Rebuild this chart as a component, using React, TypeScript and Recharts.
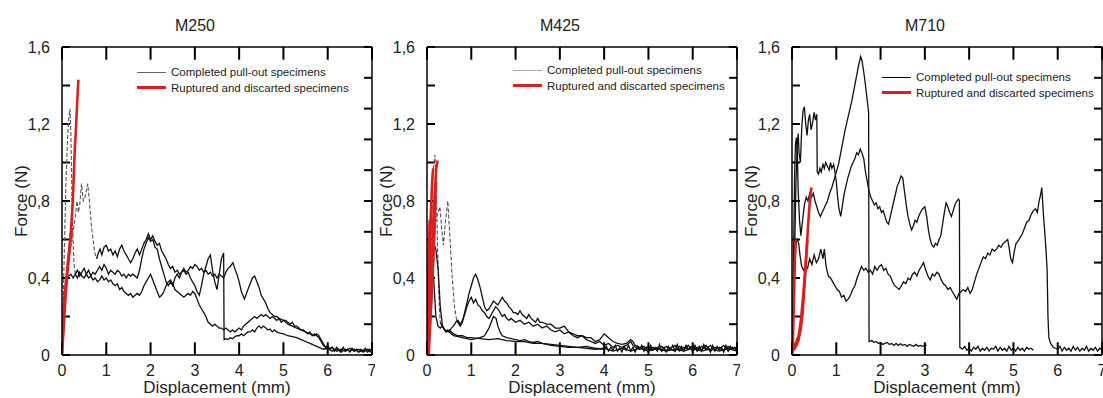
import React from "react";
import { LineChart, Line, XAxis, YAxis, ReferenceLine } from "recharts";

type Pt = [number, number];

const xTicks = [0, 1, 2, 3, 4, 5, 6, 7];
const yTicks = [0, 0.2, 0.4, 0.6, 0.8, 1, 1.2, 1.4, 1.6];
const rightTicks = [0, 0.16, 0.32, 0.48, 0.64, 0.8, 0.96, 1.12, 1.28, 1.44, 1.6];
const legendLabels = ["Completed pull-out specimens", "Ruptured and discarted specimens"];

// M250
const m250Spike: Pt[] = [
  [0, 0], [0.03, 0.3], [0.06, 0.62], [0.09, 0.9], [0.12, 1.1], [0.15, 1.22], [0.18, 1.28], [0.2, 1.15],
  [0.22, 0.9], [0.24, 0.65], [0.27, 0.48], [0.3, 0.42],
];
const m250A: Pt[] = [
  [0.3, 0.42], [0.35, 0.44], [0.4, 0.41], [0.45, 0.43], [0.5, 0.45],
  [0.55, 0.42], [0.6, 0.44], [0.65, 0.41], [0.7, 0.43], [0.75, 0.42], [0.8, 0.44], [0.85, 0.46], [0.9, 0.44],
  [0.95, 0.47], [1.0, 0.45], [1.05, 0.42], [1.1, 0.44], [1.15, 0.43], [1.2, 0.42], [1.25, 0.44], [1.3, 0.43],
  [1.35, 0.41], [1.4, 0.42], [1.45, 0.4], [1.5, 0.42], [1.55, 0.41], [1.6, 0.42], [1.7, 0.4], [1.75, 0.44],
  [1.8, 0.5], [1.85, 0.55], [1.9, 0.58], [1.95, 0.61], [2.0, 0.59], [2.05, 0.6], [2.1, 0.56], [2.15, 0.55],
  [2.2, 0.5], [2.25, 0.46], [2.3, 0.42], [2.35, 0.38], [2.4, 0.36], [2.45, 0.38], [2.5, 0.36], [2.55, 0.4],
  [2.6, 0.42], [2.65, 0.4], [2.7, 0.43], [2.75, 0.44], [2.8, 0.42], [2.85, 0.43], [2.9, 0.4], [2.95, 0.38],
  [3.0, 0.36], [3.05, 0.33], [3.1, 0.31], [3.15, 0.36], [3.2, 0.42], [3.25, 0.46], [3.3, 0.5], [3.35, 0.52],
  [3.4, 0.44], [3.45, 0.38], [3.5, 0.34], [3.55, 0.42], [3.6, 0.5], [3.65, 0.53], [3.66, 0.08], [3.7, 0.085],
  [3.75, 0.08], [3.8, 0.09], [3.85, 0.085], [3.9, 0.095], [3.95, 0.1], [4.0, 0.1], [4.05, 0.11], [4.1, 0.1],
  [4.15, 0.11], [4.2, 0.12], [4.25, 0.12], [4.3, 0.13], [4.35, 0.12], [4.4, 0.14], [4.45, 0.15], [4.5, 0.14],
  [4.55, 0.15], [4.6, 0.14], [4.65, 0.13], [4.7, 0.135], [4.75, 0.12], [4.8, 0.13], [4.85, 0.12], [4.9, 0.115],
  [5.0, 0.11], [5.1, 0.1], [5.2, 0.095], [5.3, 0.09], [5.4, 0.08], [5.5, 0.07], [5.6, 0.06], [5.7, 0.05],
  [5.8, 0.04], [5.9, 0.03], [6.0, 0.035], [6.1, 0.02], [6.2, 0.03], [6.3, 0.015], [6.4, 0.03], [6.5, 0.02],
  [6.6, 0.03], [6.7, 0.015], [6.8, 0.025], [6.9, 0.02], [7.0, 0.015],
];
const m250BRise: Pt[] = [
  [0, 0], [0.05, 0.22], [0.1, 0.4], [0.15, 0.48], [0.2, 0.56], [0.25, 0.64], [0.3, 0.72], [0.34, 0.8],
  [0.37, 0.74], [0.4, 0.78], [0.44, 0.89], [0.48, 0.8], [0.52, 0.82], [0.58, 0.89], [0.62, 0.8], [0.66, 0.68],
  [0.7, 0.6], [0.74, 0.53], [0.78, 0.5],
];
const m250B: Pt[] = [
  [0.78, 0.5], [0.82, 0.53], [0.86, 0.55], [0.9, 0.52], [0.95, 0.56], [1.0, 0.57],
  [1.05, 0.54], [1.1, 0.55], [1.15, 0.52], [1.2, 0.54], [1.25, 0.51], [1.3, 0.55], [1.35, 0.57], [1.4, 0.54],
  [1.45, 0.52], [1.5, 0.5], [1.55, 0.48], [1.6, 0.5], [1.65, 0.53], [1.7, 0.55], [1.75, 0.52], [1.8, 0.55],
  [1.85, 0.58], [1.9, 0.6], [1.95, 0.63], [2.0, 0.6], [2.05, 0.62], [2.1, 0.59], [2.15, 0.57], [2.2, 0.58],
  [2.25, 0.54], [2.3, 0.52], [2.35, 0.5], [2.4, 0.47], [2.45, 0.45], [2.5, 0.46], [2.55, 0.43], [2.6, 0.44],
  [2.65, 0.42], [2.7, 0.43], [2.75, 0.45], [2.8, 0.43], [2.85, 0.44], [2.9, 0.46], [2.95, 0.45], [3.0, 0.47],
  [3.05, 0.46], [3.1, 0.44], [3.15, 0.45], [3.2, 0.43], [3.25, 0.44], [3.3, 0.42], [3.35, 0.43], [3.4, 0.41],
  [3.45, 0.42], [3.5, 0.4], [3.55, 0.42], [3.6, 0.41], [3.65, 0.4], [3.7, 0.43], [3.75, 0.45], [3.8, 0.46],
  [3.86, 0.48], [3.9, 0.45], [3.95, 0.42], [4.0, 0.38], [4.05, 0.33], [4.12, 0.29], [4.18, 0.33], [4.25, 0.37],
  [4.3, 0.4], [4.35, 0.41], [4.4, 0.38], [4.45, 0.35], [4.5, 0.31], [4.55, 0.29], [4.6, 0.27], [4.65, 0.24],
  [4.7, 0.22], [4.75, 0.21], [4.8, 0.2], [4.85, 0.2], [4.9, 0.19], [5.0, 0.18], [5.05, 0.18], [5.1, 0.17],
  [5.15, 0.16], [5.2, 0.17], [5.25, 0.15], [5.3, 0.15], [5.35, 0.14], [5.4, 0.13], [5.45, 0.13], [5.5, 0.12],
  [5.55, 0.11], [5.6, 0.12], [5.65, 0.1], [5.7, 0.11], [5.75, 0.1], [5.8, 0.09], [5.85, 0.07], [5.9, 0.05],
  [5.95, 0.04], [6.0, 0.03], [6.1, 0.04], [6.2, 0.02], [6.3, 0.03], [6.4, 0.02], [6.5, 0.035], [6.6, 0.02],
  [6.7, 0.03], [6.8, 0.015], [6.9, 0.03], [7.0, 0.02],
];
const m250C: Pt[] = [
  [0, 0], [0.03, 0.2], [0.06, 0.32], [0.1, 0.38], [0.15, 0.41], [0.2, 0.42], [0.25, 0.4], [0.3, 0.42],
  [0.35, 0.4], [0.4, 0.43], [0.45, 0.41], [0.5, 0.4], [0.55, 0.42], [0.6, 0.4], [0.65, 0.41], [0.7, 0.39],
  [0.75, 0.4], [0.8, 0.38], [0.85, 0.39], [0.9, 0.41], [0.95, 0.39], [1.0, 0.4], [1.05, 0.38], [1.1, 0.39],
  [1.15, 0.37], [1.2, 0.36], [1.25, 0.37], [1.3, 0.34], [1.35, 0.35], [1.4, 0.33], [1.45, 0.32], [1.5, 0.31],
  [1.55, 0.32], [1.6, 0.3], [1.65, 0.31], [1.7, 0.32], [1.75, 0.31], [1.8, 0.33], [1.85, 0.36], [1.9, 0.38],
  [1.95, 0.4], [2.0, 0.42], [2.05, 0.39], [2.1, 0.36], [2.15, 0.33], [2.2, 0.3], [2.25, 0.31], [2.3, 0.33],
  [2.35, 0.36], [2.4, 0.38], [2.45, 0.39], [2.5, 0.37], [2.55, 0.34], [2.6, 0.33], [2.65, 0.32], [2.7, 0.31],
  [2.75, 0.3], [2.8, 0.31], [2.85, 0.32], [2.9, 0.31], [2.95, 0.33], [3.0, 0.32], [3.05, 0.29], [3.1, 0.26],
  [3.15, 0.24], [3.2, 0.22], [3.25, 0.2], [3.3, 0.17], [3.35, 0.16], [3.4, 0.15], [3.45, 0.16], [3.5, 0.15],
  [3.55, 0.14], [3.6, 0.14], [3.65, 0.13], [3.7, 0.14], [3.75, 0.13], [3.8, 0.12], [3.85, 0.13], [3.9, 0.12],
  [3.95, 0.13], [4.0, 0.14], [4.05, 0.13], [4.1, 0.15], [4.15, 0.16], [4.2, 0.17], [4.25, 0.18], [4.3, 0.19],
  [4.35, 0.2], [4.4, 0.19], [4.45, 0.2], [4.5, 0.21], [4.55, 0.2], [4.6, 0.21], [4.65, 0.2], [4.7, 0.19],
  [4.75, 0.2], [4.8, 0.19], [4.85, 0.18], [4.9, 0.19], [4.95, 0.17], [5.0, 0.18], [5.1, 0.16], [5.2, 0.15],
  [5.3, 0.14], [5.4, 0.13], [5.5, 0.12], [5.6, 0.11], [5.7, 0.1], [5.75, 0.11], [5.8, 0.1], [5.85, 0.08],
  [5.9, 0.06], [5.95, 0.04], [6.0, 0.05], [6.05, 0.03], [6.1, 0.04], [6.15, 0.02], [6.2, 0.04], [6.25, 0.03],
  [6.3, 0.02], [6.35, 0.04], [6.4, 0.02], [6.45, 0.03], [6.5, 0.015], [6.55, 0.035], [6.6, 0.02], [6.65, 0.03],
  [6.7, 0.015], [6.75, 0.03], [6.8, 0.02], [6.85, 0.035], [6.9, 0.015], [6.95, 0.03], [7.0, 0.02],
];
const m250Red1: Pt[] = [
  [0, 0], [0.04, 0.15], [0.08, 0.3], [0.12, 0.42], [0.16, 0.52], [0.2, 0.64], [0.24, 0.78], [0.27, 0.95],
  [0.29, 1.08], [0.31, 1.15], [0.34, 1.3], [0.37, 1.43],
];
const m250Red2: Pt[] = [[0, 0], [0.03, 0.18], [0.06, 0.32], [0.1, 0.4], [0.14, 0.5], [0.18, 0.58], [0.22, 0.66]];

// M425
const m425Spike: Pt[] = [
  [0, 0], [0.04, 0.3], [0.08, 0.6], [0.12, 0.85], [0.15, 0.98], [0.18, 1.04], [0.2, 0.92], [0.22, 0.75],
  [0.24, 0.55], [0.26, 0.38], [0.28, 0.24], [0.3, 0.17],
];
const m425A: Pt[] = [
  [0.3, 0.17], [0.34, 0.15], [0.38, 0.14], [0.42, 0.12], [0.46, 0.13],
  [0.5, 0.12], [0.55, 0.14], [0.6, 0.15], [0.65, 0.17], [0.7, 0.18], [0.75, 0.16], [0.8, 0.18], [0.85, 0.21],
  [0.9, 0.25], [0.95, 0.28], [1.0, 0.3], [1.05, 0.27], [1.1, 0.29], [1.15, 0.26], [1.2, 0.25], [1.25, 0.23],
  [1.3, 0.22], [1.35, 0.2], [1.4, 0.19], [1.45, 0.21], [1.5, 0.23], [1.55, 0.25], [1.6, 0.24], [1.65, 0.22],
  [1.7, 0.2], [1.75, 0.21], [1.8, 0.19], [1.85, 0.18], [1.9, 0.19], [1.95, 0.18], [2.0, 0.17], [2.1, 0.18],
  [2.2, 0.16], [2.3, 0.17], [2.4, 0.15], [2.5, 0.16], [2.6, 0.14], [2.7, 0.15], [2.8, 0.13], [2.9, 0.12],
  [3.0, 0.13], [3.1, 0.11], [3.2, 0.12], [3.3, 0.1], [3.4, 0.09], [3.5, 0.1], [3.6, 0.08], [3.7, 0.07],
  [3.8, 0.06], [3.9, 0.07], [4.0, 0.05], [4.1, 0.06], [4.2, 0.04], [4.3, 0.05], [4.4, 0.04], [4.5, 0.05],
  [4.6, 0.07], [4.65, 0.05], [4.7, 0.04], [4.8, 0.03], [4.9, 0.045], [5.0, 0.02], [5.1, 0.04], [5.2, 0.025],
  [5.3, 0.045], [5.4, 0.02], [5.5, 0.035], [5.6, 0.05], [5.7, 0.02], [5.8, 0.04], [5.9, 0.03], [6.0, 0.05],
  [6.1, 0.02], [6.2, 0.045], [6.3, 0.03], [6.4, 0.05], [6.5, 0.025], [6.6, 0.04], [6.7, 0.02], [6.8, 0.045],
  [6.9, 0.03], [7.0, 0.04],
];
const m425BRise: Pt[] = [
  [0, 0], [0.05, 0.3], [0.1, 0.5], [0.15, 0.62], [0.2, 0.7], [0.25, 0.74], [0.29, 0.77], [0.33, 0.66],
  [0.37, 0.57], [0.42, 0.7], [0.47, 0.8], [0.52, 0.6], [0.57, 0.4], [0.62, 0.25], [0.67, 0.18],
];
const m425B: Pt[] = [
  [0.67, 0.18], [0.75, 0.15],
  [0.8, 0.17], [0.85, 0.22], [0.9, 0.27], [0.95, 0.32], [1.0, 0.36], [1.05, 0.4], [1.1, 0.42], [1.15, 0.39],
  [1.2, 0.35], [1.25, 0.3], [1.3, 0.25], [1.35, 0.23], [1.4, 0.24], [1.45, 0.26], [1.5, 0.28], [1.55, 0.27],
  [1.6, 0.26], [1.65, 0.28], [1.7, 0.3], [1.75, 0.28], [1.8, 0.27], [1.85, 0.25], [1.9, 0.24], [1.95, 0.22],
  [2.0, 0.22], [2.05, 0.21], [2.1, 0.23], [2.15, 0.21], [2.2, 0.2], [2.25, 0.19], [2.3, 0.21], [2.35, 0.19],
  [2.4, 0.18], [2.45, 0.17], [2.5, 0.19], [2.55, 0.17], [2.6, 0.17], [2.7, 0.16], [2.8, 0.16], [2.9, 0.14],
  [3.0, 0.14], [3.1, 0.15], [3.2, 0.12], [3.3, 0.11], [3.4, 0.1], [3.5, 0.1], [3.6, 0.09], [3.7, 0.09],
  [3.8, 0.07], [3.9, 0.08], [4.0, 0.11], [4.05, 0.1], [4.1, 0.09], [4.2, 0.07], [4.3, 0.06], [4.4, 0.055],
  [4.5, 0.06], [4.6, 0.08], [4.65, 0.07], [4.7, 0.05], [4.8, 0.04], [4.9, 0.03], [5.0, 0.045], [5.1, 0.025],
  [5.2, 0.04], [5.3, 0.02], [5.4, 0.045], [5.5, 0.03], [5.6, 0.02], [5.7, 0.045], [5.8, 0.025], [5.9, 0.05],
  [6.0, 0.02], [6.1, 0.04], [6.2, 0.025], [6.3, 0.05], [6.4, 0.02], [6.5, 0.04], [6.6, 0.03], [6.7, 0.05],
  [6.8, 0.02], [6.9, 0.04], [7.0, 0.025],
];
const m425C: Pt[] = [
  [0, 0], [0.05, 0.25], [0.1, 0.5], [0.15, 0.58], [0.2, 0.55], [0.25, 0.45], [0.3, 0.25], [0.35, 0.15],
  [0.4, 0.13], [0.5, 0.12], [0.6, 0.1], [0.7, 0.095], [0.8, 0.09], [0.9, 0.085], [1.0, 0.08], [1.1, 0.085],
  [1.2, 0.09], [1.3, 0.1], [1.35, 0.12], [1.4, 0.14], [1.45, 0.17], [1.5, 0.2], [1.56, 0.19], [1.6, 0.15],
  [1.65, 0.12], [1.7, 0.1], [1.8, 0.09], [1.9, 0.085], [2.0, 0.08], [2.1, 0.075], [2.2, 0.08], [2.3, 0.07],
  [2.4, 0.065], [2.5, 0.07], [2.6, 0.06], [2.8, 0.055], [3.0, 0.05], [3.2, 0.045], [3.4, 0.04], [3.6, 0.045],
  [3.8, 0.035], [4.0, 0.03], [4.05, 0.045], [4.1, 0.02], [4.15, 0.04], [4.2, 0.025], [4.25, 0.05], [4.3, 0.02],
  [4.35, 0.035], [4.4, 0.015], [4.45, 0.045], [4.5, 0.025], [4.55, 0.05], [4.6, 0.02], [4.65, 0.04], [4.7, 0.015],
  [4.75, 0.045], [4.8, 0.03], [4.85, 0.05], [4.9, 0.02], [4.95, 0.04], [5.0, 0.015], [5.05, 0.05], [5.1, 0.025],
  [5.15, 0.04], [5.2, 0.02], [5.25, 0.055], [5.3, 0.02], [5.35, 0.04], [5.4, 0.015], [5.45, 0.045], [5.5, 0.03],
  [5.55, 0.05], [5.6, 0.02], [5.65, 0.055], [5.7, 0.025], [5.75, 0.045], [5.8, 0.02], [5.85, 0.05], [5.9, 0.03],
  [5.95, 0.04], [6.0, 0.015], [6.05, 0.05], [6.1, 0.025], [6.15, 0.045], [6.2, 0.02], [6.25, 0.055], [6.3, 0.03],
  [6.35, 0.04], [6.4, 0.015], [6.45, 0.05], [6.5, 0.02], [6.55, 0.045], [6.6, 0.025], [6.65, 0.04], [6.7, 0.015],
  [6.75, 0.05], [6.8, 0.02], [6.85, 0.045], [6.9, 0.03], [6.95, 0.04], [7.0, 0.02],
];
const m425D: Pt[] = [
  [0, 0], [0.05, 0.35], [0.1, 0.5], [0.15, 0.4], [0.2, 0.2], [0.25, 0.15], [0.3, 0.14], [0.35, 0.15],
  [0.4, 0.13], [0.45, 0.12], [0.5, 0.13], [0.6, 0.11], [0.7, 0.1], [0.8, 0.1], [0.9, 0.09], [1.0, 0.09],
  [1.2, 0.085], [1.4, 0.08], [1.6, 0.085], [1.8, 0.075], [2.0, 0.07], [2.2, 0.07], [2.4, 0.06], [2.6, 0.06],
  [2.8, 0.05], [3.0, 0.045], [3.2, 0.04], [3.4, 0.04], [3.6, 0.035], [3.8, 0.03], [4.0, 0.035], [4.2, 0.02],
  [4.4, 0.035], [4.6, 0.02], [4.8, 0.035], [5.0, 0.02], [5.2, 0.035], [5.4, 0.02], [5.6, 0.03], [5.8, 0.02],
  [6.0, 0.035], [6.2, 0.02], [6.4, 0.03], [6.6, 0.02], [6.8, 0.035], [7.0, 0.02],
];
const m425Red1: Pt[] = [[0, 0], [0.03, 0.25], [0.06, 0.5], [0.09, 0.75], [0.12, 0.92], [0.14, 0.97]];
const m425Red2: Pt[] = [[0, 0], [0.05, 0.2], [0.1, 0.45], [0.14, 0.68], [0.18, 0.86], [0.21, 0.97], [0.24, 1.01]];
const m425Red3: Pt[] = [[0.02, 0], [0.06, 0.15], [0.1, 0.3], [0.13, 0.45], [0.16, 0.6], [0.18, 0.75], [0.2, 0.9]];
const m425Red4: Pt[] = [[0, 0], [0.02, 0.3], [0.04, 0.55], [0.06, 0.7], [0.08, 0.62], [0.1, 0.78]];
const m425Red5: Pt[] = [[0.04, 0], [0.08, 0.2], [0.12, 0.4], [0.15, 0.55], [0.17, 0.7], [0.19, 0.82]];

// M710
const m710A: Pt[] = [
  [0, 0.03], [0.03, 0.2], [0.06, 0.55], [0.09, 0.9], [0.12, 1.1], [0.14, 1.15], [0.16, 1.05], [0.19, 1.0],
  [0.22, 1.18], [0.25, 1.27], [0.28, 1.29], [0.31, 1.2], [0.34, 1.14], [0.37, 1.22], [0.4, 1.25], [0.43, 1.17],
  [0.46, 1.2], [0.5, 1.26], [0.53, 1.22], [0.56, 1.25], [0.57, 0.95], [0.6, 0.94], [0.63, 0.97], [0.66, 0.95],
  [0.7, 0.99], [0.73, 0.97], [0.76, 1.0], [0.8, 0.98], [0.84, 0.96], [0.87, 1.0], [0.9, 0.97], [0.94, 0.99],
  [0.97, 0.95], [1.0, 0.9], [1.03, 0.82], [1.06, 0.76], [1.1, 0.72], [1.14, 0.78], [1.18, 0.84], [1.22, 0.88],
  [1.26, 0.92], [1.3, 0.95], [1.34, 0.98], [1.38, 1.0], [1.42, 1.02], [1.46, 1.05], [1.5, 1.04], [1.54, 1.07],
  [1.58, 1.05], [1.62, 1.02], [1.66, 0.95], [1.7, 0.9], [1.74, 0.85], [1.78, 0.82], [1.82, 0.8], [1.86, 0.78],
  [1.9, 0.79], [1.94, 0.76], [1.98, 0.77], [2.02, 0.74], [2.06, 0.75], [2.1, 0.72], [2.14, 0.69], [2.18, 0.68],
  [2.22, 0.72], [2.26, 0.76], [2.3, 0.8], [2.34, 0.84], [2.38, 0.88], [2.42, 0.9], [2.46, 0.93], [2.5, 0.92],
  [2.54, 0.85], [2.58, 0.78], [2.62, 0.72], [2.66, 0.68], [2.7, 0.65], [2.74, 0.67], [2.78, 0.7], [2.82, 0.69],
  [2.86, 0.72], [2.9, 0.74], [2.95, 0.76], [3.0, 0.77], [3.04, 0.72], [3.08, 0.65], [3.12, 0.6], [3.16, 0.57],
  [3.2, 0.56], [3.24, 0.58], [3.28, 0.57], [3.32, 0.6], [3.36, 0.62], [3.4, 0.68], [3.44, 0.74], [3.48, 0.79],
  [3.52, 0.77], [3.56, 0.74], [3.6, 0.72], [3.64, 0.75], [3.68, 0.78], [3.72, 0.8], [3.76, 0.81], [3.78, 0.8],
  [3.79, 0.04], [3.85, 0.03], [3.9, 0.045], [3.95, 0.025], [4.0, 0.035], [4.05, 0.02], [4.1, 0.04], [4.15, 0.03],
  [4.2, 0.045], [4.25, 0.02], [4.3, 0.035], [4.35, 0.025], [4.4, 0.04], [4.45, 0.02], [4.5, 0.035], [4.55, 0.03],
  [4.6, 0.045], [4.65, 0.02], [4.7, 0.04], [4.75, 0.025], [4.8, 0.035], [4.85, 0.02], [4.9, 0.045], [4.95, 0.025],
  [5.0, 0.035], [5.05, 0.02], [5.1, 0.04], [5.15, 0.025], [5.2, 0.035], [5.25, 0.02], [5.3, 0.04], [5.35, 0.03],
  [5.4, 0.035], [5.45, 0.025],
];
const m710B: Pt[] = [
  [0, 0.02], [0.02, 0.25], [0.04, 0.6], [0.06, 0.95], [0.08, 1.1], [0.1, 1.13], [0.12, 1.05], [0.14, 0.85],
  [0.17, 0.7], [0.2, 0.62], [0.24, 0.7], [0.28, 0.78], [0.32, 0.82], [0.36, 0.8], [0.4, 0.84], [0.44, 0.82],
  [0.48, 0.84], [0.52, 0.8], [0.56, 0.77], [0.6, 0.74], [0.64, 0.72], [0.68, 0.74], [0.72, 0.76], [0.76, 0.78],
  [0.8, 0.8], [0.85, 0.84], [0.9, 0.87], [0.95, 0.91], [1.0, 0.95], [1.05, 0.99], [1.1, 1.05], [1.15, 1.11],
  [1.2, 1.17], [1.25, 1.22], [1.3, 1.27], [1.35, 1.32], [1.4, 1.38], [1.45, 1.44], [1.5, 1.5], [1.55, 1.55],
  [1.58, 1.53], [1.62, 1.47], [1.66, 1.4], [1.7, 1.32], [1.73, 1.26], [1.74, 0.07], [1.8, 0.075], [1.85, 0.065],
  [1.9, 0.07], [1.95, 0.06], [2.0, 0.065], [2.05, 0.055], [2.1, 0.06], [2.15, 0.065], [2.2, 0.055], [2.25, 0.06],
  [2.3, 0.05], [2.35, 0.06], [2.4, 0.05], [2.45, 0.058], [2.5, 0.05], [2.55, 0.055], [2.6, 0.045], [2.65, 0.055],
  [2.7, 0.05], [2.75, 0.045], [2.8, 0.055], [2.85, 0.045], [2.9, 0.05], [2.95, 0.045], [3.0, 0.052], [3.04, 0.05],
];
const m710C: Pt[] = [
  [0, 0.04], [0.03, 0.2], [0.06, 0.45], [0.09, 0.58], [0.12, 0.6], [0.15, 0.58], [0.18, 0.52], [0.22, 0.46],
  [0.26, 0.44], [0.3, 0.46], [0.35, 0.45], [0.4, 0.5], [0.45, 0.47], [0.5, 0.52], [0.55, 0.48], [0.6, 0.5],
  [0.65, 0.55], [0.7, 0.5], [0.73, 0.55], [0.77, 0.46], [0.82, 0.41], [0.87, 0.4], [0.92, 0.38], [0.97, 0.36],
  [1.02, 0.34], [1.07, 0.33], [1.12, 0.3], [1.17, 0.31], [1.22, 0.28], [1.27, 0.29], [1.32, 0.31], [1.37, 0.34],
  [1.42, 0.36], [1.47, 0.4], [1.52, 0.43], [1.57, 0.46], [1.62, 0.44], [1.67, 0.45], [1.72, 0.43], [1.77, 0.44],
  [1.82, 0.42], [1.87, 0.46], [1.92, 0.44], [1.97, 0.46], [2.02, 0.47], [2.07, 0.44], [2.12, 0.45], [2.17, 0.42],
  [2.22, 0.41], [2.27, 0.38], [2.32, 0.36], [2.37, 0.35], [2.42, 0.34], [2.47, 0.36], [2.52, 0.38], [2.57, 0.37],
  [2.62, 0.4], [2.67, 0.39], [2.72, 0.42], [2.77, 0.43], [2.82, 0.41], [2.87, 0.44], [2.92, 0.46], [2.97, 0.48],
  [3.02, 0.44], [3.07, 0.41], [3.12, 0.39], [3.17, 0.42], [3.22, 0.41], [3.27, 0.43], [3.32, 0.42], [3.37, 0.39],
  [3.42, 0.37], [3.47, 0.36], [3.52, 0.34], [3.57, 0.35], [3.62, 0.33], [3.67, 0.31], [3.72, 0.29], [3.77, 0.32],
  [3.82, 0.33], [3.87, 0.34], [3.92, 0.33], [3.97, 0.35], [4.02, 0.32], [4.07, 0.34], [4.12, 0.38], [4.17, 0.42],
  [4.22, 0.45], [4.27, 0.48], [4.32, 0.51], [4.37, 0.5], [4.42, 0.53], [4.47, 0.52], [4.52, 0.55], [4.57, 0.54],
  [4.62, 0.55], [4.67, 0.57], [4.72, 0.56], [4.77, 0.58], [4.82, 0.59], [4.87, 0.6], [4.9, 0.56], [4.94, 0.5],
  [4.98, 0.48], [5.02, 0.54], [5.06, 0.58], [5.1, 0.59], [5.15, 0.61], [5.2, 0.63], [5.25, 0.66], [5.3, 0.69],
  [5.35, 0.7], [5.4, 0.73], [5.45, 0.75], [5.5, 0.76], [5.54, 0.74], [5.58, 0.8], [5.62, 0.84], [5.64, 0.87],
  [5.68, 0.72], [5.72, 0.6], [5.76, 0.45], [5.78, 0.2], [5.8, 0.09], [5.84, 0.06], [5.9, 0.04], [5.95, 0.035],
  [6.0, 0.03], [6.05, 0.045], [6.1, 0.02], [6.15, 0.04], [6.2, 0.025], [6.25, 0.035], [6.3, 0.02], [6.35, 0.045],
  [6.4, 0.025], [6.45, 0.04], [6.5, 0.02], [6.55, 0.035], [6.6, 0.025], [6.65, 0.045], [6.7, 0.02], [6.75, 0.035],
  [6.8, 0.025], [6.85, 0.04], [6.9, 0.02], [6.95, 0.035], [7.0, 0.025],
];
const m710Red1: Pt[] = [
  [0, 0.02], [0.05, 0.03], [0.1, 0.05], [0.15, 0.08], [0.2, 0.14], [0.24, 0.22], [0.27, 0.32], [0.3, 0.42],
  [0.33, 0.55], [0.36, 0.66], [0.39, 0.76], [0.42, 0.84], [0.44, 0.87],
];
const m710Red2: Pt[] = [[0, 0], [0.02, 0.08], [0.04, 0.25], [0.06, 0.45], [0.08, 0.6]];
const m710Red3: Pt[] = [[0, 0.01], [0.05, 0.05], [0.1, 0.07], [0.15, 0.1], [0.2, 0.18], [0.25, 0.3], [0.3, 0.45], [0.35, 0.6]];

const rows = (pts: Pt[]) => pts.map(([x, y]) => ({ x, y }));

const fmtForce = (v: number) => {
  const t = Math.round(v * 10);
  if (t % 4 !== 0) return "";
  return t === 0 ? "0" : (t / 10).toFixed(1).replace(".", ",");
};

const FONT = 'Arial, "Liberation Sans", sans-serif';
const RED = "#d9201f";
// inward tick length in data units (about 8px on each axis)
const TICK_MM = 0.18;
const TICK_N = 0.066;

const bottomTick = (p: any) => (
  <text x={p.x} y={p.y + 12} textAnchor="middle" fontSize={16} fill="#222" fontFamily={FONT}>
    {p.payload.value}
  </text>
);
const leftTick = (p: any) => (
  <text x={p.x} y={p.y} textAnchor="end" dominantBaseline="central" fontSize={16} fill="#222" fontFamily={FONT}>
    {fmtForce(p.payload.value)}
  </text>
);

const forceLabel = (props: any) => {
  const { x, y, height } = props.viewBox;
  const cx = x + 21;
  const cy = y + height / 2;
  return (
    <text x={cx} y={cy} transform={`rotate(-90 ${cx} ${cy})`} textAnchor="middle" dominantBaseline="central" fontSize={17} fill="#222" fontFamily={FONT}>
      Force (N)
    </text>
  );
};

const tickMark = (key: string, a: { x: number; y: number }, b: { x: number; y: number }) => (
  <ReferenceLine key={key} segment={[a, b]} stroke="#000" strokeWidth={2} ifOverflow="visible" />
);

interface PanelProps {
  left: number;
  title: string;
  black: Pt[][];
  dashed: Pt[][];
  red: Pt[][];
  legendX: number;
  legendY: number;
  sampleColor: string;
}

const Panel: React.FC<PanelProps> = ({ left, title, black, dashed, red, legendX, legendY, sampleColor }) => (
  <div style={{ position: "absolute", left, top: 0, width: 375, height: 398 }}>
    <LineChart width={375} height={398} margin={{ top: 47, right: 3, bottom: 0, left: 0 }} style={{ fontFamily: FONT }}>
      <XAxis
        type="number"
        dataKey="x"
        domain={[0, 7]}
        ticks={xTicks}
        interval={0}
        allowDataOverflow
        height={43}
        tickSize={0}
        tickMargin={9}
        stroke="#000"
        strokeWidth={1.5}
        tickLine={false}
        tick={bottomTick}
        label={{ value: "Displacement (mm)", position: "insideBottom", offset: 5, fontSize: 17, fill: "#222", fontFamily: FONT }}
      />
      <YAxis
        type="number"
        domain={[0, 1.6]}
        ticks={yTicks}
        interval={0}
        allowDataOverflow
        width={62}
        tickSize={0}
        tickMargin={12}
        stroke="#000"
        strokeWidth={1.5}
        tickLine={false}
        tick={leftTick}
        label={forceLabel}
      />
      {/* frame: top and right edges */}
      <ReferenceLine y={1.6} stroke="#000" strokeWidth={1.5} ifOverflow="visible" />
      <ReferenceLine x={7} stroke="#000" strokeWidth={1.5} ifOverflow="visible" />
      {xTicks.map((t) => tickMark(`b${t}`, { x: t, y: 0 }, { x: t, y: TICK_N }))}
      {xTicks.map((t) => tickMark(`t${t}`, { x: t, y: 1.6 }, { x: t, y: 1.6 - TICK_N }))}
      {yTicks.map((t) => tickMark(`l${t}`, { x: 0, y: t }, { x: TICK_MM, y: t }))}
      {rightTicks.map((t) => tickMark(`r${t}`, { x: 7, y: t }, { x: 7 - TICK_MM, y: t }))}
      {dashed.map((pts, i) => (
        <Line
          key={`d${i}`}
          data={rows(pts)}
          dataKey="y"
          type="linear"
          stroke="#555"
          strokeWidth={1.1}
          strokeDasharray="4 2"
          dot={false}
          activeDot={false}
          isAnimationActive={false}
        />
      ))}
      {black.map((pts, i) => (
        <Line
          key={`k${i}`}
          data={rows(pts)}
          dataKey="y"
          type="linear"
          stroke="#111"
          strokeWidth={1.3}
          dot={false}
          activeDot={false}
          isAnimationActive={false}
        />
      ))}
      {red.map((pts, i) => (
        <Line
          key={`r${i}`}
          data={rows(pts)}
          dataKey="y"
          type="linear"
          stroke={RED}
          strokeWidth={2.6}
          dot={false}
          activeDot={false}
          isAnimationActive={false}
        />
      ))}
    </LineChart>
    <div style={{ position: "absolute", left: 195, top: 18, transform: "translateX(-50%)", fontSize: 16, lineHeight: "16px", color: "#222", fontFamily: FONT }}>
      {title}
    </div>
    {legendLabels.map((txt, i) => (
      <div
        key={txt}
        style={{
          position: "absolute",
          left: legendX,
          top: legendY + i * 15.5 - 7,
          height: 14,
          display: "flex",
          alignItems: "center",
          fontFamily: FONT,
          fontSize: 11.5,
          color: "#222",
          whiteSpace: "nowrap",
        }}
      >
        <span style={{ display: "inline-block", width: 29, borderTop: i === 0 ? `1px solid ${sampleColor}` : `3px solid ${RED}` }} />
        <span style={{ marginLeft: 5 }}>{txt}</span>
      </div>
    ))}
  </div>
);

export default function App() {
  return (
    <div style={{ position: "absolute", left: 0, top: 0, width: 1103, height: 398, overflow: "hidden", background: "#fff" }}>
      <Panel
        left={0}
        title="M250"
        black={[m250A, m250B, m250C]}
        dashed={[m250Spike, m250BRise]}
        red={[m250Red1, m250Red2]}
        legendX={137}
        legendY={72}
        sampleColor="#666"
      />
      <Panel
        left={365}
        title="M425"
        black={[m425A, m425B, m425C, m425D]}
        dashed={[m425Spike, m425BRise]}
        red={[m425Red1, m425Red2, m425Red3, m425Red4, m425Red5]}
        legendX={148}
        legendY={70}
        sampleColor="#aaa"
      />
      <Panel
        left={730}
        title="M710"
        black={[m710A, m710B, m710C]}
        dashed={[]}
        red={[m710Red1, m710Red2, m710Red3]}
        legendX={152}
        legendY={77}
        sampleColor="#000"
      />
    </div>
  );
}
